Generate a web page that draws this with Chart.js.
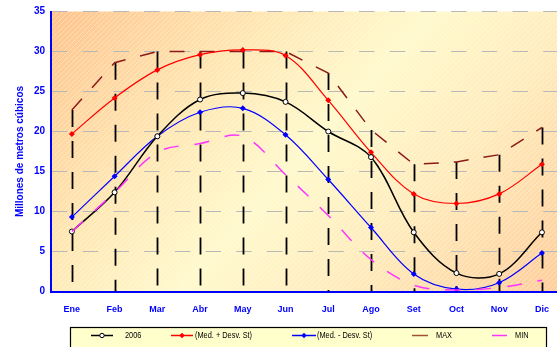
<!DOCTYPE html>
<html>
<head>
<meta charset="utf-8">
<script src="https://cdn.jsdelivr.net/npm/chart.js@4.4.0/dist/chart.umd.min.js"></script>
<style>
  html, body { margin: 0; padding: 0; background: #ffffff; overflow: hidden; }
  #wrap { width: 570px; height: 347px; }
</style>
</head>
<body>
<div id="wrap"><canvas id="c" width="570" height="347"></canvas></div>
<script>
// Monthly volumes (millones de metros cúbicos)
const months = ['Ene', 'Feb', 'Mar', 'Abr', 'May', 'Jun', 'Jul', 'Ago', 'Set', 'Oct', 'Nov', 'Dic'];
const yTicks = [0, 5, 10, 15, 20, 25, 30, 35];
const serie2006    = [7.5, 12.4, 19.4, 24.0, 24.8, 23.7, 20.0, 16.8, 7.4, 2.3, 2.2, 7.4];
const medMasDesv   = [19.7, 24.2, 27.7, 29.6, 30.2, 29.5, 23.9, 17.4, 12.2, 11.0, 12.2, 15.9];
const medMenosDesv = [9.3, 14.4, 19.4, 22.4, 22.9, 19.6, 14.0, 8.0, 2.2, 0.3, 1.1, 4.8];
const maxVals      = [22.7, 28.6, 30.0, 30.0, 30.0, 30.0, 27.3, 20.2, 15.9, 16.2, 17.1, 20.5];
const minVals      = [7.5, 12.4, 17.4, 18.5, 19.4, 14.6, 9.5, 4.0, 0.8, 0.2, 0.5, 1.4];

const SANS = "'Liberation Sans', Arial, sans-serif";
const BLUE = '#0000ff';

// Plot-area fill: diagonal peach / cream gradient with fine light stripes
function stripePattern(ctx) {
  const t = document.createElement('canvas');
  t.width = 5; t.height = 5;
  const g = t.getContext('2d');
  g.strokeStyle = 'rgba(255,255,255,0.35)';
  g.lineWidth = 1;
  g.beginPath();
  g.moveTo(-1, 6); g.lineTo(6, -1);
  g.stroke();
  return ctx.createPattern(t, 'repeat');
}

const plotBackground = {
  id: 'plotBackground',
  beforeDraw(chart) {
    const { ctx, chartArea: a } = chart;
    const len = 567;
    const ux = 0.743, uy = 0.669;
    const grad = ctx.createLinearGradient(a.left, a.top, a.left + ux * len, a.top + uy * len);
    grad.addColorStop(0, '#ffc48c');
    grad.addColorStop(0.3, '#ffe8b4');
    grad.addColorStop(0.5, '#fff9cc');
    grad.addColorStop(0.7, '#ffecbc');
    grad.addColorStop(1, '#ffcd9a');
    ctx.save();
    ctx.fillStyle = grad;
    ctx.fillRect(a.left, a.top, a.right - a.left, a.bottom - a.top);
    ctx.fillStyle = stripePattern(ctx);
    ctx.fillRect(a.left, a.top, a.right - a.left, a.bottom - a.top);
    ctx.restore();
  }
};

// Drop lines from the highest value of each month down to the category axis
const dropLines = {
  id: 'dropLines',
  beforeDatasetsDraw(chart) {
    const { ctx, scales: { x, y } } = chart;
    ctx.save();
    ctx.strokeStyle = '#000000';
    ctx.lineWidth = 1.8;
    ctx.setLineDash([17, 14]);
    maxVals.forEach((v, i) => {
      const px = Math.round(x.getPixelForValue(i)) + 0.5;
      ctx.beginPath();
      ctx.moveTo(px, y.getPixelForValue(v));
      ctx.lineTo(px, y.getPixelForValue(0));
      ctx.stroke();
    });
    ctx.restore();
  }
};

// Boxed legend below the axis
const boxedLegend = {
  id: 'boxedLegend',
  afterDraw(chart) {
    const { ctx } = chart;
    const itemX = [91, 171, 292, 412, 492];
    const lineLen = [22, 22, 24, 16, 15];
    const textX = [125, 195, 317, 436, 515];
    const cy = 335.5;
    ctx.save();
    ctx.fillStyle = '#ffffcc';
    ctx.fillRect(70.5, 327.5, 476, 30);
    ctx.strokeStyle = '#000000';
    ctx.lineWidth = 1.2;
    ctx.strokeRect(70.5, 327.5, 476, 30);
    const dsOrder = ['2006', '(Med. + Desv. St)', '(Med. - Desv. St)', 'MAX', 'MIN'];
    dsOrder.forEach((label, k) => {
      const ds = chart.data.datasets.find(d => d.label === label);
      ctx.strokeStyle = ds.legendColor || ds.borderColor;
      ctx.lineWidth = 1.5;
      ctx.setLineDash([]);
      ctx.beginPath();
      ctx.moveTo(itemX[k], cy);
      ctx.lineTo(itemX[k] + lineLen[k], cy);
      ctx.stroke();
      if (ds.pointRadius > 0) {
        const r = ds.pointRadius - 0.3, mx = itemX[k] + lineLen[k] / 2;
        ctx.fillStyle = ds.pointBackgroundColor;
        ctx.strokeStyle = ds.pointBorderColor;
        ctx.beginPath();
        if (ds.pointStyle === 'circle') {
          ctx.arc(mx, cy, r, 0, Math.PI * 2);
        } else {
          ctx.moveTo(mx, cy - r); ctx.lineTo(mx + r, cy); ctx.lineTo(mx, cy + r); ctx.lineTo(mx - r, cy); ctx.closePath();
        }
        ctx.fill();
        if (ds.pointBorderWidth) { ctx.lineWidth = ds.pointBorderWidth; ctx.stroke(); }
      }
      // condensed legend lettering
      ctx.save();
      ctx.translate(textX[k], cy);
      ctx.scale(0.82, 1);
      ctx.fillStyle = '#000000';
      ctx.font = '9px ' + SANS;
      ctx.textBaseline = 'middle';
      ctx.textAlign = 'left';
      ctx.fillText(label, 0, 0);
      ctx.restore();
    });
    ctx.restore();
  }
};

new Chart(document.getElementById('c'), {
  type: 'line',
  data: {
    labels: months,
    datasets: [
      {
        label: '2006', data: serie2006, order: 1,
        borderColor: '#000000', borderWidth: 1.5, tension: 0.35,
        pointStyle: 'circle', pointRadius: 2.5, pointBackgroundColor: '#ffffff',
        pointBorderColor: '#000000', pointBorderWidth: 1
      },
      {
        label: '(Med. + Desv. St)', data: medMasDesv, order: 2,
        borderColor: '#ff0000', borderWidth: 1.2, tension: 0.35,
        pointStyle: 'rectRot', pointRadius: 3, pointBackgroundColor: '#ff0000',
        pointBorderColor: '#ff0000', pointBorderWidth: 0
      },
      {
        label: '(Med. - Desv. St)', data: medMenosDesv, order: 3,
        borderColor: '#0000ff', borderWidth: 1.2, tension: 0.35,
        pointStyle: 'rectRot', pointRadius: 3, pointBackgroundColor: '#0000ff',
        pointBorderColor: '#0000ff', pointBorderWidth: 0
      },
      {
        label: 'MAX', data: maxVals, order: 4,
        borderColor: '#8b1a1a', legendColor: '#a0522d', borderWidth: 1.5, borderDash: [15, 15], tension: 0,
        pointRadius: 0
      },
      {
        label: 'MIN', data: minVals, order: 0,
        borderColor: '#ff33ff', borderWidth: 1.5, borderDash: [15, 16], tension: 0.35,
        pointRadius: 0
      }
    ]
  },
  options: {
    responsive: false,
    animation: false,
    devicePixelRatio: 1,
    layout: { padding: { top: 11, right: 6.7, left: 0, bottom: 0 } },
    plugins: { legend: { display: false }, tooltip: { enabled: false } },
    scales: {
      x: {
        type: 'category',
        offset: true,
        grid: { display: false, drawTicks: false },
        border: { display: true, color: BLUE, width: 2 },
        ticks: {
          color: BLUE, autoSkip: false, maxRotation: 0, padding: 12.5,
          font: { family: SANS, size: 9, weight: 'bold' }
        },
        afterFit(s) { s.height = 55.5; }
      },
      y: {
        min: 0, max: 35,
        afterBuildTicks(s) { s.ticks = yTicks.map(v => ({ value: v })); },
        grid: { color: '#b8b8b8', lineWidth: 1, drawTicks: false },
        border: { display: true, color: BLUE, width: 2, dash: [15.5, 15.2] },
        ticks: {
          color: BLUE, padding: 5.5,
          font: { family: SANS, size: 10, weight: 'bold' }
        },
        title: {
          display: true, text: 'Millones de metros cúbicos', color: BLUE,
          font: { family: SANS, size: 10, weight: 'bold' },
          padding: { top: 14, bottom: 0 }
        },
        afterFit(s) { s.width = 50.5; }
      }
    }
  },
  plugins: [plotBackground, dropLines, boxedLegend]
});
</script>
</body>
</html>
